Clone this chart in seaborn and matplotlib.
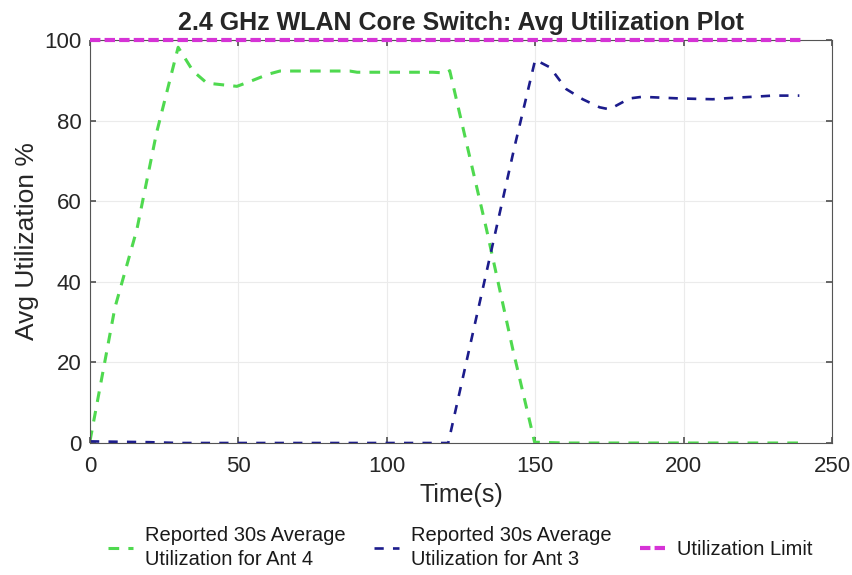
import matplotlib
matplotlib.use("Agg")
import matplotlib.pyplot as plt
import seaborn as sns

# Data
ant4_time = [0, 8.4, 15.8, 22.4, 29.7, 34.7, 39.4, 49.5, 54.9, 60, 64, 87.5, 90, 115.5, 120.2, 121.2, 133.6, 142.5, 149.8, 160, 180, 200, 220, 240]
ant4_util = [0.5, 33.6, 53, 76.9, 98.2, 92.3, 89.3, 88.5, 90, 91.5, 92.3, 92.3, 92, 92, 91.8, 92.4, 53, 23.1, 0.2, 0, 0, 0, 0, 0]

ant3_time = [0, 20, 30, 60, 90, 120.7, 143.1, 150, 155, 160.5, 166, 171.7, 175, 181.8, 186, 198.6, 209.8, 215.5, 225.6, 230, 239]
ant3_util = [0.4, 0.2, 0, 0, 0, 0, 73.7, 95.1, 93.2, 87.8, 85.3, 83.3, 82.8, 85.5, 85.9, 85.5, 85.3, 85.6, 86, 86.2, 86.2]

limit_time = [0, 240]
limit_util = [100, 100]

labels = ["Reported 30s Average\nUtilization for Ant 4",
          "Reported 30s Average\nUtilization for Ant 3",
          "Utilization Limit"]
title = "2.4 GHz WLAN Core Switch: Avg Utilization Plot"
xlabel = "Time(s)"
ylabel = "Avg Utilization %"

sns.set_theme(style="whitegrid")
plt.rcParams['font.family'] = ['Liberation Sans', 'DejaVu Sans']

fig = plt.figure(figsize=(8.53, 5.75), dpi=100)
ax = fig.add_axes([90/853, 1 - 443/575, (832-90)/853, (443-40)/575])

sns.lineplot(x=ant4_time, y=ant4_util, ax=ax, color="#4fd94f", lw=2.2,
             label=labels[0], estimator=None, sort=False)
sns.lineplot(x=ant3_time, y=ant3_util, ax=ax, color="#1c1c8c", lw=1.9,
             label=labels[1], estimator=None, sort=False)
sns.lineplot(x=limit_time, y=limit_util, ax=ax, color="#d633d6", lw=3.0,
             label=labels[2], estimator=None, sort=False)

lines = ax.get_lines()
lines[0].set_dashes((3.5, 3))
lines[1].set_dashes((3.5, 3.5))
lines[2].set_dashes((2.5, 1.0))
lines[2].set_clip_on(False)
lines[2].set_zorder(5)

ax.set_xlim(0, 250)
ax.set_ylim(0, 100)
ax.set_xticks([0, 50, 100, 150, 200, 250])
ax.set_yticks([0, 20, 40, 60, 80, 100])
ax.tick_params(axis='both', labelsize=16, direction='in', length=4,
               colors='#555555', labelcolor='#262626',
               top=True, right=True, left=True, bottom=True)
ax.tick_params(axis='x', pad=9)
ax.tick_params(axis='y', pad=6)
ax.grid(True, color='#ebebeb', lw=0.8)
ax.set_facecolor('white')
for s in ax.spines.values():
    s.set_visible(True)
    s.set_color('#555555')
    s.set_linewidth(0.8)

ax.set_title(title, fontsize=18, fontweight='bold', pad=7)
ax.set_xlabel(xlabel, fontsize=18, labelpad=5)
ax.set_ylabel(ylabel, fontsize=19, labelpad=4)

leg = ax.legend(loc='center', bbox_to_anchor=(0.4987, -0.26), ncol=3,
                frameon=False, fontsize=14.5, handlelength=1.25,
                handletextpad=0.6, columnspacing=1.4)
for t in leg.get_texts():
    t.set_linespacing(1.35)
    t.set_color('#1a1a1a')

fig.savefig("out.png", dpi=100)
